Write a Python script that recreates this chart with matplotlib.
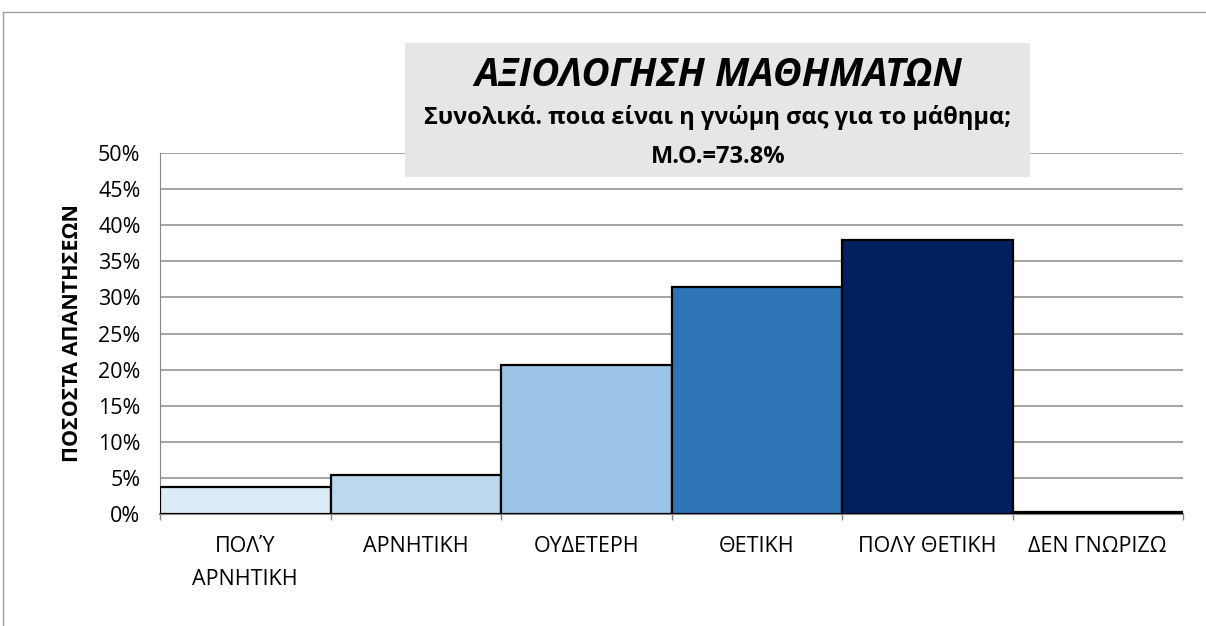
import matplotlib
matplotlib.use("Agg")
import matplotlib.pyplot as plt
from matplotlib.patches import Rectangle
from matplotlib.lines import Line2D
from matplotlib.ticker import PercentFormatter

plt.rcParams['font.family'] = ['Open Sans', 'DejaVu Sans']

# Daten
categories = ["ΠΟΛΎ\nΑΡΝΗΤΙΚΗ", "ΑΡΝΗΤΙΚΗ", "ΟΥΔΕΤΕΡΗ", "ΘΕΤΙΚΗ", "ΠΟΛΥ ΘΕΤΙΚΗ", "ΔΕΝ ΓΝΩΡΙΖΩ"]
values = [3.7, 5.4, 20.7, 31.4, 38.0, 0.3]
colors = ["#DDEBF7", "#BDD7EE", "#9DC3E6", "#2E75B6", "#002060", "#FFFFFF"]
y_ticks = [0, 5, 10, 15, 20, 25, 30, 35, 40, 45, 50]

title = "ΑΞΙΟΛΟΓΗΣΗ ΜΑΘΗΜΑΤΩΝ"
subtitle = "Συνολικά. ποια είναι η γνώμη σας για το μάθημα;"
mean_text = "Μ.Ο.=73.8%"
y_label = "ΠΟΣΟΣΤΑ ΑΠΑΝΤΗΣΕΩΝ"

W, H = 1206, 626
fig = plt.figure(figsize=(W / 100, H / 100), dpi=100)

def fx(px):
    return px / W

def fy(py):
    return 1 - py / H

ax = fig.add_axes([fx(160), fy(514), fx(1183 - 160), (514 - 153) / H])

x = list(range(len(categories)))
ax.bar(x, values, width=1.0, color=colors, edgecolor="black", linewidth=1.6, zorder=3)

ax.set_xlim(-0.5, len(categories) - 0.5)
ax.set_ylim(0, 50)
ax.set_yticks(y_ticks)
ax.yaxis.set_major_formatter(PercentFormatter(decimals=0))
ax.set_xticks(x)
ax.set_xticklabels(categories, fontsize=15.5, linespacing=1.75, va="top")
ax.tick_params(axis="x", length=0, pad=16)
ax.tick_params(axis="y", length=0, pad=14, labelsize=15.5)

# Kategorie-Trennstriche unter der Achse
ax.set_xticks([i - 0.5 for i in range(len(categories) + 1)], minor=True)
ax.tick_params(axis="x", which="minor", length=4, color="#868686", width=1)

ax.grid(axis="y", color="#8C8C8C", linewidth=1.1, zorder=0)
ax.set_axisbelow(True)
for s in ["top", "right"]:
    ax.spines[s].set_visible(False)
ax.spines["left"].set_color("#868686")
ax.spines["bottom"].set_color("#868686")
ax.spines["bottom"].set_linewidth(1.5)

ax.set_ylabel(y_label, fontsize=15.5, fontweight="bold", labelpad=11)

# Titel-Box
fig.add_artist(Rectangle((fx(405), fy(177)), fx(1030 - 405), (177 - 43) / H,
                         transform=fig.transFigure, facecolor="#E6E6E6",
                         edgecolor="none", zorder=5))
fig.text(fx(718), fy(76), title, fontsize=28, fontweight="bold", fontstyle="italic",
         ha="center", va="center", zorder=6)
fig.text(fx(718), fy(118), subtitle, fontsize=17, fontweight="bold",
         ha="center", va="center", zorder=6)
fig.text(fx(718), fy(157), mean_text, fontsize=17, fontweight="bold",
         ha="center", va="center", zorder=6)

# Rahmen
fig.add_artist(Line2D([fx(3), 1], [fy(12), fy(12)], transform=fig.transFigure,
                      color="#A0A0A0", linewidth=1))
fig.add_artist(Line2D([fx(3), fx(3)], [fy(12), 0], transform=fig.transFigure,
                      color="#A0A0A0", linewidth=1))

fig.savefig("out.png", dpi=100)
plt.close()
